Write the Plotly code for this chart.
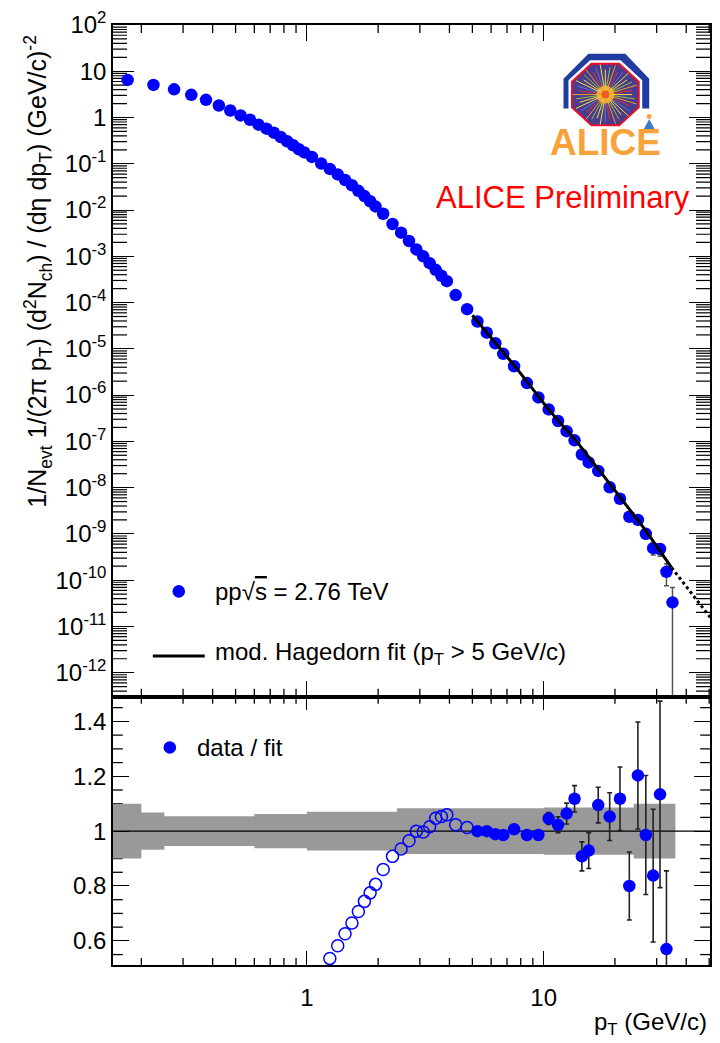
import math
import plotly.graph_objects as go

FONT = "Liberation Sans"

# ---------------- data ----------------
pt_spec = [0.175, 0.225, 0.275, 0.325, 0.375, 0.425, 0.475, 0.525, 0.575, 0.625,
           0.675, 0.725, 0.775, 0.825, 0.875, 0.925, 0.975,
           1.05, 1.15, 1.25, 1.35, 1.45, 1.55, 1.65, 1.75, 1.85, 1.95,
           2.1, 2.3, 2.5, 2.7, 2.9, 3.1, 3.3, 3.5, 3.7, 3.9,
           4.25, 4.75, 5.25, 5.75, 6.25, 6.75, 7.5, 8.5, 9.5,
           10.5, 11.5, 12.5, 13.5, 14.5, 15.5,
           17, 19, 21, 23, 25, 27, 29, 31, 33, 35]
spec = [6.49, 5.07, 4.07, 3.09, 2.41, 1.82, 1.42, 1.11, 0.897, 0.70,
        0.574, 0.471, 0.379, 0.307, 0.252, 0.206, 0.176,
        0.141, 0.101, 0.0776, 0.0589, 0.0447, 0.0343, 0.026, 0.020, 0.0155, 0.012,
        0.0083, 0.0050, 0.00324, 0.00214, 0.00141, 0.0010, 7.1e-4, 5.1e-4, 3.8e-4, 2.9e-4,
        1.45e-4, 7.2e-5, 3.9e-5, 2.24e-5, 1.32e-5, 7.8e-6, 4.2e-6, 1.82e-6, 8.9e-7,
        4.9e-7, 2.75e-7, 1.66e-7, 1.05e-7, 5.2e-8, 3.5e-8,
        2.3e-8, 1.02e-8, 5.75e-9, 2.34e-9, 2.0e-9, 1.0e-9, 4.9e-10, 4.7e-10, 1.51e-10, 3.3e-11]
spec_relerr = [0.01] * 17 + [0.01] * 10 + [0.01] * 10 + \
              [0.01, 0.01, 0.006, 0.006, 0.007, 0.008, 0.008, 0.010, 0.012,
               0.021, 0.028, 0.036, 0.043, 0.058, 0.070,
               0.060, 0.083, 0.104, 0.155, 0.162, 0.220, 0.290, 0.300, 0.500, 1.09]

fit_pt = [5.0, 7.62, 10.5, 13.8, 19.4, 26.8, 34.7]
fit_val = [5.3e-5, 4.01e-6, 4.85e-7, 9.84e-8, 1.06e-8, 1.24e-9, 1.86e-10]
fit_ext_pt = [34.7, 42.0, 50.6]
fit_ext_val = [1.86e-10, 5.2e-11, 1.55e-11]

ratio_open_pt = [1.25, 1.35, 1.45, 1.55, 1.65, 1.75, 1.85, 1.95, 2.1, 2.3,
                 2.5, 2.7, 2.9, 3.1, 3.3, 3.5, 3.7, 3.9, 4.25, 4.75]
ratio_open = [0.536, 0.582, 0.626, 0.665, 0.707, 0.744, 0.775, 0.806, 0.860, 0.908,
              0.935, 0.965, 1.000, 0.997, 1.016, 1.047, 1.053, 1.060, 1.023, 1.013]

ratio_pt = [5.25, 5.75, 6.25, 6.75, 7.5, 8.5, 9.5, 10.5, 11.5, 12.5, 13.5, 14.5, 15.5,
            17, 19, 21, 23, 25, 27, 29, 31, 33]
ratio = [1.000, 1.000, 0.989, 0.986, 1.007, 0.986, 0.986, 1.046, 1.023, 1.064, 1.118,
         0.908, 0.929, 1.095, 1.053, 1.118, 0.800, 1.203, 0.986, 0.838, 1.134, 0.570]
ratio_err = [0.006, 0.006, 0.007, 0.008, 0.008, 0.010, 0.012, 0.022, 0.029, 0.038, 0.048,
             0.053, 0.065, 0.065, 0.087, 0.116, 0.124, 0.195, 0.217, 0.242, 0.340, 0.285]

band_edges = [0.15, 0.2, 0.25, 0.6, 1.0, 2.4, 10.0, 24.0, 36.0]
band_sys = [0.100, 0.068, 0.054, 0.062, 0.071, 0.083, 0.086, 0.100]

ytop_ticks = [10.0 ** k for k in range(-12, 3)]
ytop_text = ["10<sup>%d</sup>" % k for k in range(-12, 0)] + ["1", "10", "10<sup>2</sup>"]
ybot_ticks = [0.6, 0.8, 1.0, 1.2, 1.4]
ybot_text = ["0.6", "0.8", "1", "1.2", "1.4"]
x_ticks = [1, 10]
x_text = ["1", "10"]

# ---------------- geometry helpers ----------------
W, H = 720, 1043
ML, MR, MT, MB = 113, 8, 19, 78
PW, PH = W - ML - MR, H - MT - MB
BOT = H - MB
TOP_H = 695 - MT
BOT_H = BOT - 695


def X(p):
    return (p - ML) / PW


def Y(p):
    return (BOT - p) / PH


split = (BOT - 695) / PH

x_minor = [0.2, 0.3, 0.4, 0.5, 0.6, 0.7, 0.8, 0.9, 2, 3, 4, 5, 6, 7, 8, 9, 20, 30, 40, 50]
ytop_minor = [m * 10.0 ** k for k in range(-13, 2) for m in range(2, 10)]
ybot_minor = [0.55, 0.65, 0.7, 0.75, 0.85, 0.9, 0.95, 1.05, 1.1, 1.15, 1.25, 1.3, 1.35, 1.45]
xr = [math.log10(0.1518), math.log10(50.4)]
ytr = [-12.52, 2.0]
ybr = [0.512, 1.490]

fig = go.Figure()


# minor y ticks: horizontal-line markers centred on the frame edges; the half
# outside the frame is clipped, leaving an inward tick like ROOT draws
def minor_y_markers(vals, rng, is_log, length, xa, ya, width):
    ys = []
    for v in vals:
        c = math.log10(v) if is_log else v
        if rng[0] < c < rng[1]:
            ys.append(v)
    xs = [10 ** xr[0]] * len(ys) + [10 ** xr[1]] * len(ys)
    fig.add_trace(go.Scatter(x=xs, y=ys + ys, mode="markers", xaxis=xa, yaxis=ya,
                             marker=dict(symbol="line-ew", size=2 * length, color="black",
                                         line=dict(color="black", width=width)),
                             cliponaxis=True, showlegend=False, hoverinfo="skip"))


minor_y_markers(ytop_minor, ytr, True, 10, "x", "y", 1.2)
minor_y_markers(ybot_minor, ybr, False, 7, "x2", "y2", 1.3)

# ---- top panel ----
err_plus = [v * r for v, r in zip(spec, spec_relerr)]
err_minus = [min(v * r, 0.9999 * v) for v, r in zip(spec, spec_relerr)]
fig.add_trace(go.Scatter(
    x=pt_spec, y=spec, mode="markers", xaxis="x", yaxis="y",
    marker=dict(symbol="circle", size=12.5, color="#0000ff"),
    error_y=dict(type="data", symmetric=False, array=err_plus, arrayminus=err_minus,
                 color="#555555", thickness=1.5, width=2.5),
    showlegend=False))
fig.add_trace(go.Scatter(x=fit_pt, y=fit_val, mode="lines", xaxis="x", yaxis="y",
                         line=dict(color="black", width=3), showlegend=False))
fig.add_trace(go.Scatter(x=fit_ext_pt, y=fit_ext_val, mode="lines", xaxis="x", yaxis="y",
                         line=dict(color="black", width=3, dash="dot"), showlegend=False))

# ---- bottom panel ----
bx, by_up, by_lo = [], [], []
for i, s in enumerate(band_sys):
    lo, hi = band_edges[i], band_edges[i + 1]
    bx += [lo, hi]
    by_up += [1 + s, 1 + s]
    by_lo += [1 - s, 1 - s]
fig.add_trace(go.Scatter(x=bx + bx[::-1], y=by_up + by_lo[::-1], mode="lines",
                         fill="toself", fillcolor="#999999", line=dict(width=0, color="#999999"),
                         xaxis="x2", yaxis="y2", showlegend=False, hoverinfo="skip"))
fig.add_trace(go.Scatter(x=[0.1518, 50.6], y=[1, 1], mode="lines", xaxis="x2", yaxis="y2",
                         line=dict(color="black", width=1.3), showlegend=False))
fig.add_trace(go.Scatter(x=ratio_open_pt, y=ratio_open, mode="markers", xaxis="x2", yaxis="y2",
                         marker=dict(symbol="circle-open", size=12, color="#0000ff",
                                     line=dict(width=1.5, color="#1a1aff")),
                         showlegend=False))
fig.add_trace(go.Scatter(x=ratio_pt, y=ratio, mode="markers", xaxis="x2", yaxis="y2",
                         marker=dict(symbol="circle", size=12.5, color="#0000ff"),
                         error_y=dict(type="data", array=ratio_err, color="#222222",
                                      thickness=1.6, width=2.5),
                         showlegend=False))

# ---------------- axes ----------------
common = dict(showline=True, linecolor="black", linewidth=1.5, mirror="allticks",
              ticks="inside", tickcolor="black", tickwidth=1.3, showgrid=False,
              zeroline=False, tickfont=dict(family=FONT, size=24, color="black"))

fig.update_layout(
    width=W, height=H, autosize=False,
    margin=dict(l=ML, r=MR, t=MT, b=MB, pad=0),
    paper_bgcolor="white", plot_bgcolor="white", showlegend=False,
    font=dict(family=FONT, size=24, color="black"),
    xaxis=dict(type="log", range=xr, domain=[0, 1], anchor="y",
               tickmode="array", tickvals=x_ticks, ticktext=x_text, showticklabels=False,
               ticklen=16, **common),
    yaxis=dict(type="log", range=ytr, domain=[split, 1], anchor="x",
               tickmode="array", tickvals=ytop_ticks, ticktext=ytop_text,
               ticklen=21, **common),
    xaxis2=dict(type="log", range=xr, domain=[0, 1], anchor="y2",
                tickmode="array", tickvals=x_ticks, ticktext=x_text,
                ticklen=14, ticklabelstandoff=10, **common),
    yaxis2=dict(range=ybr, domain=[0, split], anchor="x2",
                tickmode="array", tickvals=ybot_ticks, ticktext=ybot_text,
                ticklen=16, **common),
)

shapes = []


def xminor(vals, dom, panel_h, length, width):
    for v in vals:
        c = math.log10(v)
        if not (xr[0] < c < xr[1]):
            continue
        xp = (c - xr[0]) / (xr[1] - xr[0])
        f = length / panel_h
        for a, b in [(0, f), (1 - f, 1)]:
            shapes.append(dict(type="line", xref="paper", yref=dom, x0=xp, x1=xp, y0=a, y1=b,
                               line=dict(color="black", width=width)))


xminor(x_minor, "y domain", TOP_H, 8, 1.3)
xminor(x_minor, "y2 domain", BOT_H, 7, 1.3)

# ---------------- texts ----------------
ann = []
ann.append(dict(x=X(38), y=Y(267), xref="paper", yref="paper", textangle=-90,
                xanchor="center", yanchor="middle", showarrow=False,
                text="1/N<sub>evt</sub> 1/(2π p<sub>T</sub>) (d<sup>2</sup>N<sub>ch</sub>) / "
                     "(dη dp<sub>T</sub>) (GeV/c)<sup>-2</sup>",
                font=dict(family=FONT, size=25, color="black")))
ann.append(dict(x=X(711), y=Y(1024), xref="paper", yref="paper", xanchor="right",
                yanchor="middle", showarrow=False, text="p<sub>T</sub> (GeV/c)",
                font=dict(family=FONT, size=24, color="black")))
ann.append(dict(x=X(694), y=Y(193), xref="paper", yref="paper", xanchor="right",
                yanchor="middle", showarrow=False, text="ALICE Preliminary",
                font=dict(family=FONT, size=31, color="#ff0000")))
ann.append(dict(x=X(213), y=Y(589), xref="paper", yref="paper", xanchor="left",
                yanchor="middle", showarrow=False,
                text="pp√<span style='text-decoration:overline'>s</span> = 2.76 TeV",
                font=dict(family=FONT, size=24, color="black")))
ann.append(dict(x=X(213), y=Y(652), xref="paper", yref="paper", xanchor="left",
                yanchor="middle", showarrow=False,
                text="mod. Hagedorn fit (p<sub>T</sub> > 5 GeV/c)",
                font=dict(family=FONT, size=24, color="black")))
ann.append(dict(x=X(195), y=Y(746), xref="paper", yref="paper", xanchor="left",
                yanchor="middle", showarrow=False, text="data / fit",
                font=dict(family=FONT, size=24, color="black")))
ann.append(dict(x=X(607), y=Y(137), xref="paper", yref="paper", xanchor="center",
                yanchor="middle", showarrow=False, text="<b>ALICE</b>",
                font=dict(family=FONT, size=37, color="#f7a23b")))

# legend markers / line
for cx, cy in [(179, 589), (170, 746)]:
    r = 6.3
    shapes.append(dict(type="circle", xref="paper", yref="paper",
                       x0=X(cx - r), x1=X(cx + r), y0=Y(cy + r), y1=Y(cy - r),
                       fillcolor="#0000ff", line=dict(width=0)))
shapes.append(dict(type="line", xref="paper", yref="paper", x0=X(153), x1=X(205),
                   y0=Y(654), y1=Y(654), line=dict(color="black", width=3)))


def poly(pts):
    return "M " + " L ".join("%.5f,%.5f" % (X(a), Y(b)) for a, b in pts) + " Z"


def octagon(cx, cy, hw, hh):
    a, b = hw * 0.4142, hh * 0.4142
    return [(cx - a, cy - hh), (cx + a, cy - hh), (cx + hw, cy - b), (cx + hw, cy + b),
            (cx + a, cy + hh), (cx - a, cy + hh), (cx - hw, cy + b), (cx - hw, cy - b)]


# logo
shapes.append(dict(type="path", xref="paper", yref="paper",
                   path=poly([(565, 103), (565, 73), (590, 48), (627, 48), (651, 73), (651, 103)]),
                   fillcolor="#1f3c9e", line=dict(width=0)))
shapes.append(dict(type="path", xref="paper", yref="paper", path=poly(octagon(607, 89, 37, 34.5)),
                   fillcolor="white", line=dict(width=0)))
shapes.append(dict(type="path", xref="paper", yref="paper", path=poly(octagon(607, 89, 33.5, 31)),
                   fillcolor="#4a3b8f", line=dict(width=2, color="#e8102a")))
cols = ["#f2e03a", "#8cc63f", "#f39c1f", "#e5332a", "#5577dd", "#f2e03a"]
for i in range(40):
    ang = 2 * math.pi * i / 40
    rr = 27 + 3 * (i % 3)
    shapes.append(dict(type="line", xref="paper", yref="paper",
                       x0=X(607), y0=Y(89), x1=X(607 + rr * math.cos(ang)), y1=Y(89 + rr * 0.93 * math.sin(ang)),
                       line=dict(color=cols[i % len(cols)], width=1)))
shapes.append(dict(type="circle", xref="paper", yref="paper", x0=X(598), x1=X(616), y0=Y(98), y1=Y(80),
                   fillcolor="#f7b733", line=dict(width=0), opacity=0.85))
shapes.append(dict(type="circle", xref="paper", yref="paper", x0=X(603), x1=X(611), y0=Y(93), y1=Y(85),
                   fillcolor="#f15a24", line=dict(width=0)))
shapes.append(dict(type="circle", xref="paper", yref="paper", x0=X(648.5), x1=X(653.5), y0=Y(113.5), y1=Y(108.5),
                   fillcolor="#f5a33a", line=dict(width=0)))
shapes.append(dict(type="path", xref="paper", yref="paper",
                   path=poly([(645.5, 124), (656.5, 124), (651, 113.5)]),
                   fillcolor="#3d7cc9", line=dict(width=0)))

fig.update_layout(annotations=ann, shapes=shapes)

fig.write_html("out.html")
